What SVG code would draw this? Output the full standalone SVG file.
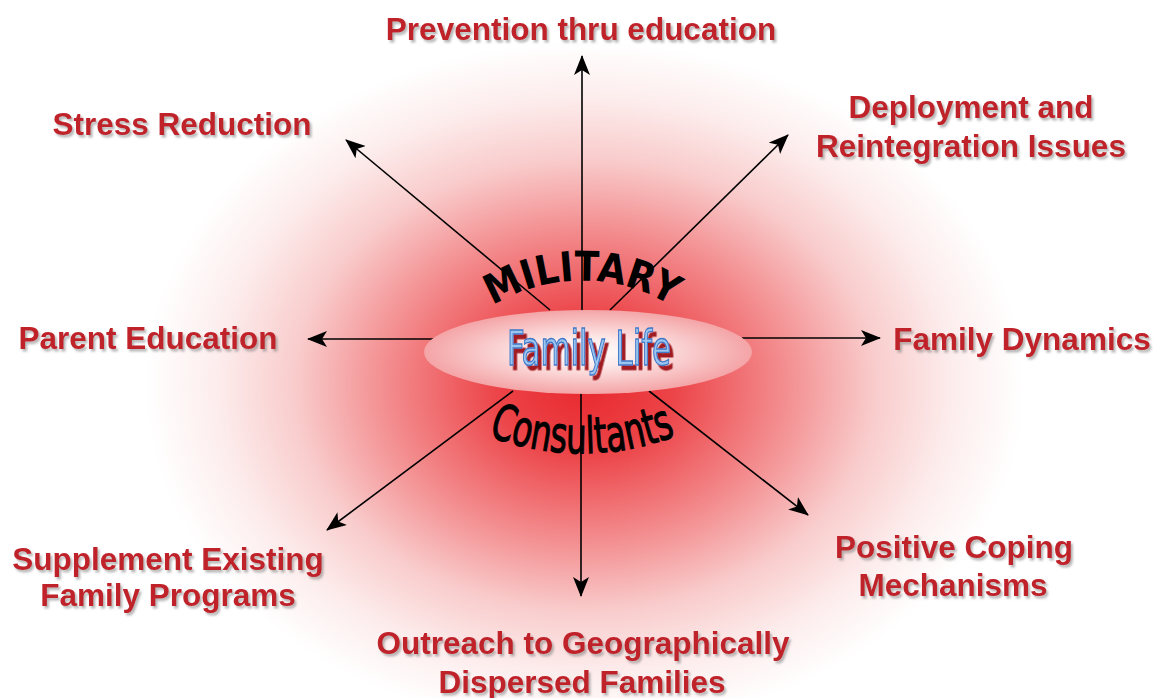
<svg xmlns="http://www.w3.org/2000/svg" width="1153" height="698" viewBox="0 0 1153 698">
  <defs>
    <radialGradient id="bg" gradientUnits="userSpaceOnUse" cx="585" cy="385" r="440" gradientTransform="translate(585 385) scale(1 0.78) translate(-585 -385)">
      <stop offset="0" stop-color="#e8282e"/>
      <stop offset="0.2" stop-color="#ec4448"/>
      <stop offset="0.45" stop-color="#f38c8e"/>
      <stop offset="0.66" stop-color="#f9cccc"/>
      <stop offset="0.84" stop-color="#fdeded"/>
      <stop offset="1" stop-color="#ffffff"/>
    </radialGradient>
    <radialGradient id="ell" cx="0.5" cy="0.5" r="0.5">
      <stop offset="0" stop-color="#ffffff"/>
      <stop offset="0.35" stop-color="#fde8e8"/>
      <stop offset="1" stop-color="#f4a4a6"/>
    </radialGradient>
    <filter id="shadow" x="-10%" y="-20%" width="120%" height="150%">
      <feDropShadow dx="2" dy="2.5" stdDeviation="1.2" flood-color="#7a7a7a" flood-opacity="0.55"/>
    </filter>
    <filter id="redshadow" x="-10%" y="-20%" width="130%" height="160%">
      <feDropShadow dx="3.5" dy="4.5" stdDeviation="0.4" flood-color="#a01a20" flood-opacity="1"/>
    </filter>
    <marker id="arr" viewBox="0 0 20 16" refX="19" refY="8" markerWidth="20" markerHeight="16" markerUnits="userSpaceOnUse" orient="auto">
      <path d="M0,0 L20,8 L0,16 L5,8 Z" fill="#000"/>
    </marker>
    <path id="arcTop" d="M 472,321 A 170 170 0 0 1 692,321"/>
    <path id="arcBot" d="M 462,424 A 260 260 0 0 0 702,424"/>
    <style>
      .lbl { font-family: "Liberation Sans", Arial, sans-serif; font-weight: bold; font-size: 31.5px; fill: #c0202a; text-anchor: middle; filter: url(#shadow); }
      .conn line { stroke: #000; stroke-width: 1.6; fill: none; marker-end: url(#arr); }
      .arch { font-family: "DejaVu Sans Condensed", "DejaVu Sans", sans-serif; fill: #000; }
    </style>
  </defs>

  <rect x="0" y="0" width="1153" height="698" fill="#ffffff"/>
  <rect x="0" y="0" width="1153" height="698" fill="url(#bg)"/>

  <g id="connectors" class="conn">
    <line x1="582" y1="311" x2="582" y2="56"/>
    <line x1="550" y1="310" x2="346" y2="140"/>
    <line x1="610" y1="310" x2="788" y2="135"/>
    <line x1="433" y1="339" x2="308" y2="339"/>
    <line x1="742" y1="338" x2="880" y2="338"/>
    <line x1="513" y1="391" x2="327" y2="530"/>
    <line x1="649" y1="391" x2="808" y2="515"/>
    <line x1="581" y1="393" x2="581" y2="596"/>
  </g>

  <g id="center">
    <ellipse cx="588" cy="352" rx="164" ry="42" fill="url(#ell)"/>
    <text x="589" y="365" font-family="'DejaVu Sans Condensed', 'DejaVu Sans', sans-serif" font-size="48" fill="#9cc6f0" stroke="#3f78c8" stroke-width="1.3" textLength="164" lengthAdjust="spacingAndGlyphs" text-anchor="middle" filter="url(#redshadow)">Family Life</text>
  </g>

  <g id="military">
    <text class="arch" font-size="41" font-weight="bold"><textPath href="#arcTop" startOffset="50%" text-anchor="middle" textLength="188" lengthAdjust="spacingAndGlyphs">MILITARY</textPath></text>
  </g>
  <g id="consultants">
    <text class="arch" font-size="50" stroke="#000" stroke-width="1.1"><textPath href="#arcBot" startOffset="50%" text-anchor="middle" textLength="192" lengthAdjust="spacingAndGlyphs">Consultants</textPath></text>
  </g>

  <g id="n-prevention"><text class="lbl" x="581" y="40">Prevention thru education</text></g>
  <g id="n-stress"><text class="lbl" x="182" y="135">Stress Reduction</text></g>
  <g id="n-deployment"><text class="lbl" x="971" y="118">Deployment and</text><text class="lbl" x="971" y="157">Reintegration Issues</text></g>
  <g id="n-parent"><text class="lbl" x="148" y="349">Parent Education</text></g>
  <g id="n-dynamics"><text class="lbl" x="1022" y="350">Family Dynamics</text></g>
  <g id="n-supplement"><text class="lbl" x="168" y="570">Supplement Existing</text><text class="lbl" x="168" y="606">Family Programs</text></g>
  <g id="n-coping"><text class="lbl" x="954" y="558">Positive Coping</text><text class="lbl" x="953" y="596">Mechanisms</text></g>
  <g id="n-outreach"><text class="lbl" x="583" y="654">Outreach to Geographically</text><text class="lbl" x="582" y="693">Dispersed Families</text></g>
</svg>
